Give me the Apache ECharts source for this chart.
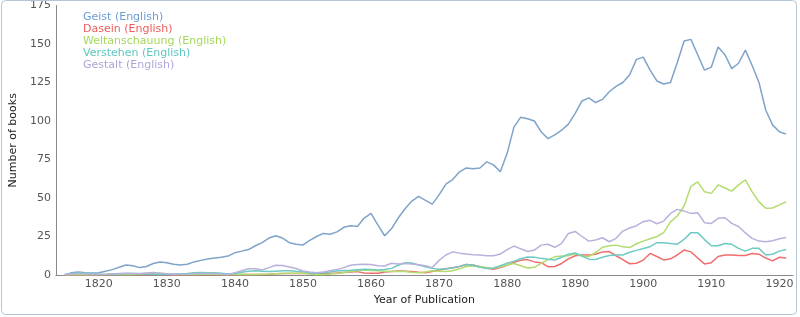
<!DOCTYPE html>
<html>
<head>
<meta charset="utf-8">
<script src="https://cdn.jsdelivr.net/npm/echarts@6/dist/echarts.min.js"></script>
<style>html,body{margin:0;padding:0;background:#fff}#c{width:800px;height:317px}</style>
</head>
<body>
<div id="c"></div>
<script>
var startYear = 1815;
var xTicks = [1820,1830,1840,1850,1860,1870,1880,1890,1900,1910,1920];
var yTicks = [0,25,50,75,100,125,150,175];
var seriesNames = ["Geist (English)","Dasein (English)","Weltanschauung (English)","Verstehen (English)","Gestalt (English)"];

var geist = [
0,1.5,2,1.5,1.3,1.5,2.5,3.5,5,6.5,
6,4.8,5.5,7.5,8.5,8,7,6.5,7,8.5,
9.5,10.4,11,11.5,12.3,14.5,15.5,16.5,19,21,
24,25.5,24,21,20,19.5,22.5,25,27,26.5,
28,31,32,31.5,37,40,32.5,25.5,30,37,
43,48,51,48.5,46,52,59,62,67,69.5,
69,69.5,73.5,71.5,67,79,96,102.5,101.5,100,
93,88.5,91,94,98,105,113,115,112,114,
119,122.5,125,130,140,141.5,133,126,124,125,
138,152,153,143,133,135,148,143,134,137.5,
146,136,125,107,97.5,93,91.5];

var dasein = [
0,0.1,0.2,0.2,0.1,0.1,0.2,0.3,0.3,0.3,
0.3,0.2,0.2,0.3,0.4,0.3,0.2,0.2,0.2,0.3,
0.3,0.3,0.3,0.2,0.2,0.2,0.3,0.3,0.3,0.3,
0.5,0.8,1,1,1,1.1,1,0.8,0.8,1,
1.3,1.7,2,2.2,1.3,1.1,1.2,2,2.3,2.6,
2.5,2.2,1.8,1.5,2.3,3.2,4,4.7,5.5,6.8,
6.5,5.3,4.3,3.8,4.8,6.3,8.2,9.5,10,8.5,
8,5.4,5.5,7.5,10.5,12.5,13,13,13.5,15,
15.2,12.5,10,7.3,7.6,9.7,14,12,9.8,10.5,
13,16.2,15,11,7.2,8,12,13,13,12.7,
12.7,14,13.5,11,9.2,11.5,11];

var weltanschauung = [
0,0.2,0.3,0.2,0.2,0.3,0.3,0.4,0.5,0.4,
0.4,0.6,0.9,1.2,1.2,0.8,0.4,0.3,0.3,0.4,
0.5,0.6,0.5,0.4,0.3,0.4,0.5,0.4,0.4,0.5,
0.6,0.8,1,1.1,1.1,1.1,0.6,0.2,0.3,0.6,
1,1.6,2.2,2.7,3.2,3,2.8,2.5,2.2,2.2,
2.2,1.8,1.5,2,2.8,2.5,2.2,2.8,4,5.5,
5.8,5.3,4.8,4.3,5.3,6.5,7.5,6,4.5,5,
7.5,10,11.8,12.3,12.5,13.8,12.3,12,14.5,18,
19,19.4,18.4,17.8,20.3,22,23.5,25,27.5,34.5,
38.3,44.8,57.5,60.5,54,53,58.5,56.5,54.5,58.5,
61.7,54,47.5,43.3,43.5,45.5,47.5];

var verstehen = [
0.3,1,1.5,1.2,0.8,0.5,0.4,0.6,0.8,1,
1,0.8,0.6,0.5,0.4,0.5,0.6,0.8,1,1.4,
1.6,1.5,1.4,1.2,0.6,1,1.8,2.4,2.8,2.5,
2.2,2.5,2.8,2.7,2.4,2.2,1.3,1.2,1.4,2,
2.6,2.9,3.1,3.4,3.7,3.6,3.3,3.5,4.3,6.3,
8,7.8,6.5,5.3,4.3,3.8,4,4.6,5.6,6.8,
6.3,5,4.3,4.6,6,7.6,9,10.5,11.7,11.5,
10.8,10.2,9.7,11.5,13.5,14.3,12.3,10.3,10.1,11.5,
12.7,13,13,14.8,16,17.2,18.4,21,21,20.5,
20,23.1,27.5,27.5,23,19,19,20.5,19.9,17.3,
15.5,17.3,17.3,13,13.5,15.5,16.6];

var gestalt = [
0.2,0.8,1,0.8,0.5,0.4,0.5,0.7,1,1.2,
1,0.9,1.3,1.6,1.2,0.8,0.5,0.5,0.6,0.8,
1,1,0.9,0.7,0.3,1.5,2.8,4,4,3.2,
4.8,6.3,6.2,5.2,4.2,2.6,2,1.5,2,2.8,
3.5,4.8,6.3,6.8,7,6.8,6,5.8,7.6,7.2,
7.5,7.2,6.6,6,4.8,9.5,13,15,14.2,13.6,
13.2,13,12.5,12.5,13.6,16.5,18.8,17,15.3,16.2,
19.4,20,18,20.5,27,28.3,25,22,22.7,24.2,
21.6,23.8,28.5,30.5,32,34.6,35.5,33.3,35,40,
42.6,41.5,40,40.4,34,33.5,36.8,37.2,33.5,31.5,
27.3,23.8,22,21.6,22.2,23.5,24.4];

var lineColors = ["#7fa3c9","#ef6e6c","#b3dc6e","#6dcbc3","#b7b1dc"];
var legendColors = ["#6a9dd2","#ee5c5c","#a5d85a","#5cc8bf","#aea4d8"];
var allData = [geist, dasein, weltanschauung, verstehen, gestalt];

function pairs(arr){ return arr.map(function(v,i){ return [startYear+i, v]; }); }

var chart = echarts.init(document.getElementById('c'), null, {renderer:'canvas'});
var font = "DejaVu Sans";
chart.setOption({
  animation:false,
  backgroundColor:'#fff',
  grid:{left:53,right:7,top:5,bottom:42,containLabel:false},
  legend:{
    orient:'vertical', left:73, top:6, icon:'none', itemWidth:0, itemHeight:12, itemGap:0,
    selectedMode:false,
    textStyle:{fontFamily:font,fontSize:11,lineHeight:12},
    data: seriesNames.map(function(n,i){ return {name:n, textStyle:{color:legendColors[i]}}; })
  },
  xAxis:{
    type:'value', min:1813.7, max:1922,
    name:'Year of Publication', nameLocation:'middle', nameGap:17,
    nameTextStyle:{fontFamily:font,fontSize:11,color:'#222'},
    axisLine:{show:true,lineStyle:{color:'#8a8a8a',width:1}},
    axisTick:{show:false},
    splitLine:{show:false},
    axisLabel:{customValues:xTicks,fontFamily:font,fontSize:11,color:'#555',margin:4,
      formatter:function(v){ return String(Math.round(v)); }}
  },
  yAxis:{
    type:'value', min:0, max:175, interval:25,
    name:'Number of books', nameLocation:'middle', nameGap:29,
    nameTextStyle:{fontFamily:font,fontSize:11,color:'#222'},
    axisLine:{show:true,lineStyle:{color:'#8a8a8a',width:1}},
    axisTick:{show:false},
    splitLine:{show:false},
    axisLabel:{fontFamily:font,fontSize:11,color:'#555',margin:5,
      formatter:function(v){ return yTicks.indexOf(v)>=0 ? String(v) : ''; }}
  },
  graphic:[{type:'rect',shape:{x:1.5,y:0.5,width:795,height:314,r:4},
    style:{fill:'none',stroke:'#b3c5d6',lineWidth:1},silent:true,z:100}],
  series: allData.map(function(d,i){
    return {name:seriesNames[i], type:'line', data:pairs(d), showSymbol:false, symbol:'none',
      lineStyle:{color:lineColors[i],width:1.5}, itemStyle:{color:lineColors[i]}};
  })
});
</script>
</body>
</html>
